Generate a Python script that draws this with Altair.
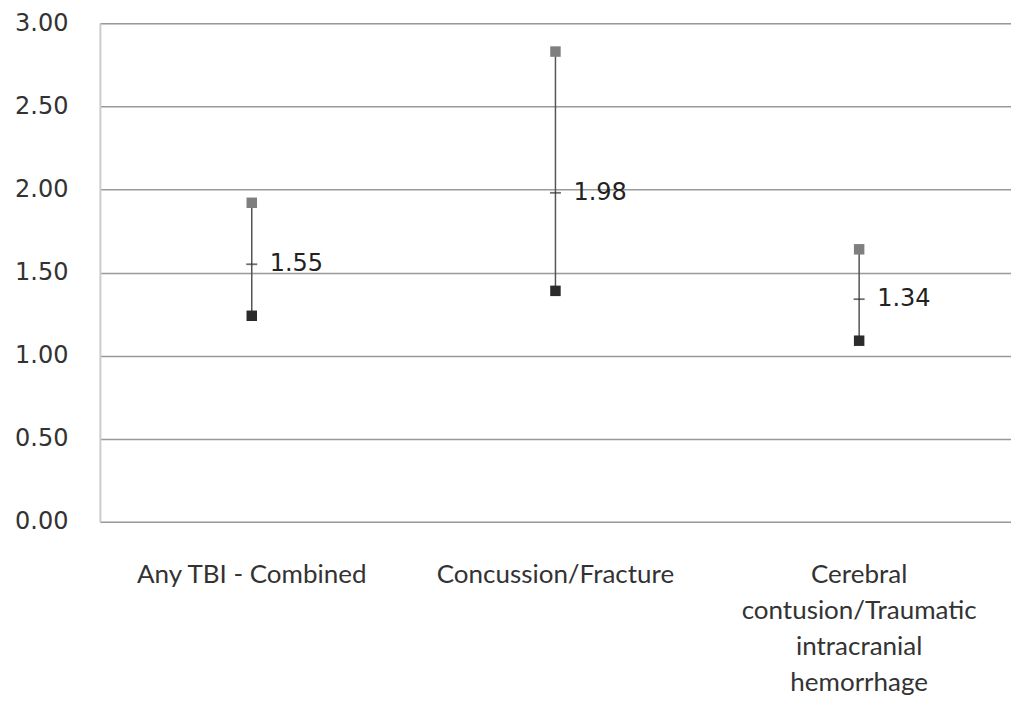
import altair as alt
import pandas as pd

categories = ["Any TBI - Combined", "Concussion/Fracture",
              "Cerebral|contusion/Traumatic|intracranial|hemorrhage"]
upper = [1.92, 2.83, 1.64]
lower = [1.24, 1.39, 1.09]
mid = [1.55, 1.98, 1.34]
mid_labels = ["1.55", "1.98", "1.34"]

df = pd.DataFrame({"cat": categories, "upper": upper, "lower": lower,
                   "mid": mid, "lab": mid_labels})

FONT = "Lato"
NUMFONT = "DejaVu Sans"
x = alt.X("cat:N", sort=categories, title=None,
          scale=alt.Scale(paddingInner=0, paddingOuter=0),
          axis=alt.Axis(labelExpr="split(datum.label, '|')", labelAngle=0,
                        labelFontSize=26, labelColor="#333", labelFont=FONT,
                        labelLineHeight=36, labelPadding=40, ticks=False,
                        domain=False, labelLimit=400))
yax = alt.Axis(format=".2f", values=[0, 0.5, 1, 1.5, 2, 2.5, 3], labelFontSize=24,
               labelColor="#333", labelFont=NUMFONT, labelPadding=32, ticks=False,
               domain=True, domainColor="#ccc", domainWidth=2,
               grid=True, gridColor="#999", gridWidth=1.5)
yscale = alt.Scale(domain=[0, 3], nice=False)

base = alt.Chart(df)
rule = base.mark_rule(color="#555", strokeWidth=1.5).encode(
    x=x, y=alt.Y("lower:Q", scale=yscale, axis=yax, title=None), y2="upper:Q")
up = base.mark_square(size=110, color="#7f7f7f", opacity=1).encode(x=x, y="upper:Q")
lo = base.mark_square(size=110, color="#2b2b2b", opacity=1).encode(x=x, y="lower:Q")
tick = base.mark_tick(color="#333", size=11, thickness=1.8, orient="horizontal").encode(x=x, y="mid:Q")
txt = base.mark_text(align="left", baseline="middle", dx=18, fontSize=24,
                     font=NUMFONT, color="#222").encode(x=x, y="mid:Q", text="lab:N")

chart = alt.layer(rule, up, lo, tick, txt).properties(
    width=912, height=499,
    padding={"left": 92, "top": 15, "right": 0, "bottom": 174},
    autosize=alt.AutoSizeParams(type="none"),
).configure_view(stroke=None).configure(background="white")

chart.save("out.html", embed_options={"renderer": "svg", "actions": False})
